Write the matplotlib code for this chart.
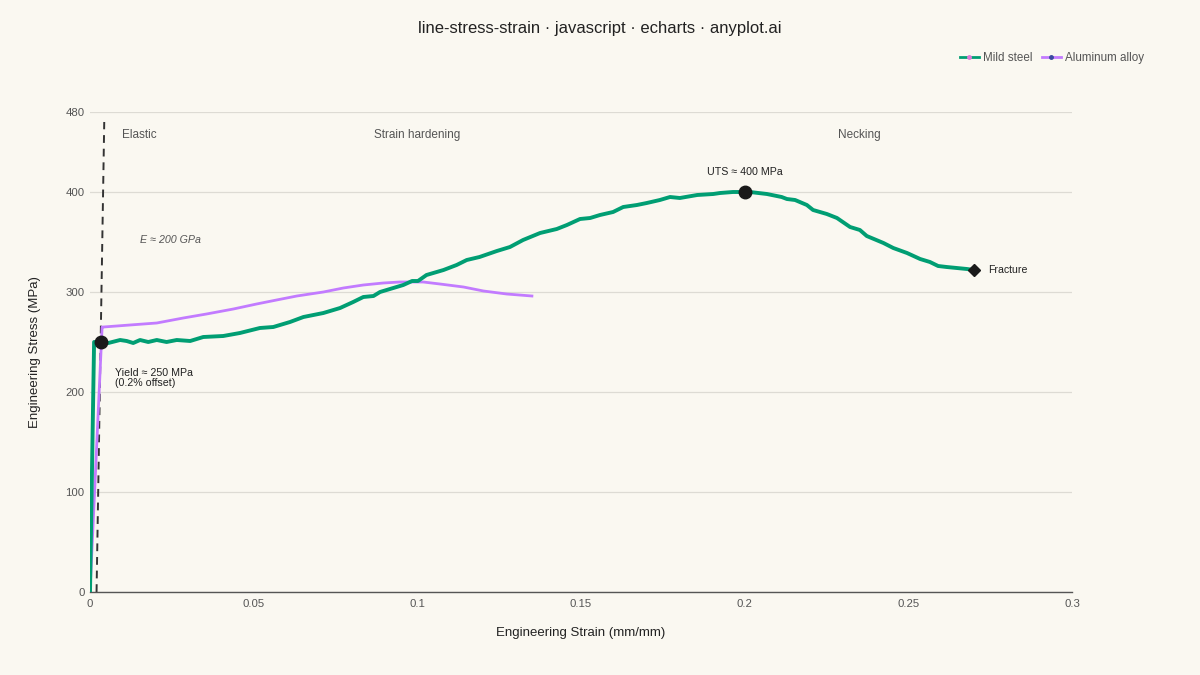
import matplotlib
matplotlib.use("Agg")
import matplotlib.pyplot as plt
from matplotlib.lines import Line2D

plt.rcParams['font.family'] = ['Liberation Sans', 'DejaVu Sans']

steel_strain = [0, 0.00125, 0.00325, 0.0056, 0.0092, 0.0112, 0.0132, 0.0153, 0.0178, 0.0204,
                0.0234, 0.0265, 0.0306, 0.0346, 0.0407, 0.0458, 0.0519, 0.056, 0.0611, 0.0652,
                0.0713, 0.0764, 0.0804, 0.0835, 0.0866, 0.0886, 0.0957, 0.0984, 0.1002, 0.1028,
                0.108, 0.112, 0.1151, 0.119, 0.1243, 0.1283, 0.1323, 0.1375, 0.1426, 0.1457,
                0.1497, 0.1528, 0.1558, 0.1598, 0.1629, 0.1671, 0.1701, 0.1741, 0.1772, 0.1802,
                0.1855, 0.1904, 0.1925, 0.1964, 0.2, 0.2016, 0.2068, 0.2113, 0.2129, 0.2154,
                0.219, 0.2209, 0.2251, 0.2282, 0.2322, 0.2352, 0.2373, 0.2424, 0.2454, 0.2496,
                0.2536, 0.2566, 0.2591, 0.2617, 0.2679, 0.27]
steel_stress = [0, 250, 250, 249, 252, 251, 249, 252, 250, 252,
                250, 252, 251, 255, 256, 259, 264, 265, 270, 275,
                279, 284, 290, 295, 296, 300, 307, 311, 311, 317,
                322, 327, 332, 335, 341, 345, 352, 359, 363, 367,
                373, 374, 377, 380, 385, 387, 389, 392, 395, 394,
                397, 398, 399, 400, 400, 400, 398, 395, 393, 392,
                387, 382, 378, 374, 365, 362, 356, 349, 344, 339,
                333, 330, 326, 325, 323, 322]

al_strain = [0, 0.0037, 0.0041, 0.0122, 0.0204, 0.0285, 0.0356, 0.0438, 0.0509, 0.057,
             0.0632, 0.0713, 0.0774, 0.0835, 0.0896, 0.0947, 0.1018, 0.1069, 0.1141, 0.1202,
             0.1273, 0.135]
al_stress = [0, 265, 265, 267, 269, 274, 278, 283, 288, 292,
             296, 300, 304, 307, 309, 310, 310, 308, 305, 301,
             298, 296]

offset_strain = [0.002, 0.00435]
offset_stress = [0, 470]

yield_pt = (0.00325, 250)
uts_pt = (0.2, 400)
fracture_pt = (0.27, 322)

x_ticks = [0, 0.05, 0.1, 0.15, 0.2, 0.25, 0.3]
x_tick_labels = ['0', '0.05', '0.1', '0.15', '0.2', '0.25', '0.3']
y_ticks = [0, 100, 200, 300, 400, 480]

BG = '#FAF8F1'
GREEN = '#009E73'
PURPLE = '#C27BFF'
TXT = '#555555'

fig = plt.figure(figsize=(12, 6.75), dpi=100, facecolor=BG)
ax = fig.add_axes([90/1200, 83/675, 982/1200, 480/675], facecolor=BG)

ax.plot(offset_strain, offset_stress, color='#333333', lw=1.4, ls=(0, (4, 3)), zorder=2)
ax.plot(al_strain, al_stress, color=PURPLE, lw=2.0, zorder=3)
ax.plot(steel_strain, steel_stress, color=GREEN, lw=2.8, zorder=4)

ax.plot(*yield_pt, 'o', color='#1a1a1a', ms=9, zorder=5)
ax.plot(*uts_pt, 'o', color='#1a1a1a', ms=9, zorder=5)
ax.plot(*fracture_pt, 'D', color='#1a1a1a', ms=6, zorder=5)

ax.set_xlim(0, 0.3)
ax.set_ylim(0, 480)
ax.set_xticks(x_ticks)
ax.set_xticklabels(x_tick_labels)
ax.set_yticks(y_ticks)
ax.grid(axis='y', color='#DDDBD4', lw=0.9)
ax.set_axisbelow(True)
for s in ['top', 'right', 'left']:
    ax.spines[s].set_visible(False)
ax.spines['bottom'].set_color('#555555')
ax.spines['bottom'].set_linewidth(1.0)
ax.tick_params(axis='y', length=0, labelsize=8.2, labelcolor=TXT, pad=4)
ax.tick_params(axis='x', length=0, labelsize=8.2, labelcolor=TXT, pad=5)

ax.set_xlabel('Engineering Strain (mm/mm)', fontsize=9.5, color='#222222', labelpad=13)
ax.set_ylabel('Engineering Stress (MPa)', fontsize=9.5, color='#222222', labelpad=17.5)

ax.text(0.015, 457, 'Elastic', ha='center', va='center', fontsize=8.5, color=TXT)
ax.text(0.1, 457, 'Strain hardening', ha='center', va='center', fontsize=8.5, color=TXT)
ax.text(0.235, 457, 'Necking', ha='center', va='center', fontsize=8.5, color=TXT)
ax.text(0.0245, 352, 'E ≈ 200 GPa', ha='center', va='center', fontsize=7.7, color=TXT,
        style='italic')
ax.text(0.0077, 214, 'Yield ≈ 250 MPa\n(0.2% offset)', ha='left', va='center', fontsize=7.7,
        color='#222222', linespacing=0.95)
ax.text(0.2, 420, 'UTS ≈ 400 MPa', ha='center', va='center', fontsize=7.7, color='#222222')
ax.text(0.2745, 322, 'Fracture', ha='left', va='center', fontsize=7.6, color='#222222')

fig.text(0.5, 1 - 29/675, 'line-stress-strain · javascript · echarts · anyplot.ai',
         ha='center', va='center', fontsize=12, color='#222222')

handles = [Line2D([0], [0], color=GREEN, lw=2, marker='o', ms=2.5, mfc='#E07BD8', mec='#E07BD8'),
           Line2D([0], [0], color=PURPLE, lw=2, marker='o', ms=2.5, mfc='#3A4A9F', mec='#3A4A9F')]
leg = fig.legend(handles, ['Mild steel', 'Aluminum alloy'], loc='center right',
                 bbox_to_anchor=(1155/1200, 1 - 58/675), ncol=2, frameon=False,
                 fontsize=8.4, handlelength=1.6, handletextpad=0.4, columnspacing=0.8)
for t in leg.get_texts():
    t.set_color(TXT)

fig.savefig('out.png', dpi=100, facecolor=BG)
